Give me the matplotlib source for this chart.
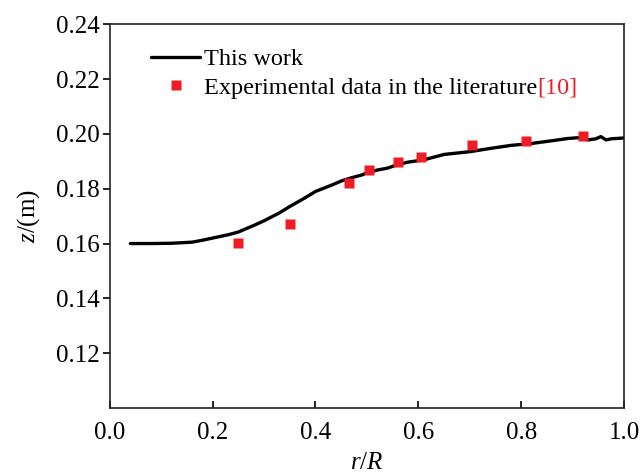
import matplotlib
matplotlib.use("Agg")
import matplotlib.pyplot as plt

plt.rcParams['font.family'] = ['Liberation Serif', 'DejaVu Serif']
plt.rcParams['mathtext.fontset'] = 'custom'
plt.rcParams['mathtext.it'] = 'Liberation Serif:italic'
plt.rcParams['mathtext.rm'] = 'Liberation Serif'

# Simulation line ("This work")
line_r = [0.04, 0.08, 0.12, 0.16, 0.18, 0.20, 0.23, 0.25, 0.28, 0.30, 0.33, 0.35, 0.38,
          0.40, 0.43, 0.45, 0.47, 0.49, 0.50, 0.52, 0.54, 0.56, 0.58, 0.61, 0.65, 0.70,
          0.74, 0.78, 0.82, 0.86, 0.89, 0.91, 0.93, 0.945, 0.955, 0.965, 0.975, 1.0]
line_z = [0.1600, 0.1600, 0.1601, 0.1605, 0.1612, 0.1620, 0.1632, 0.1642, 0.1666, 0.1683,
          0.1712, 0.1735, 0.1767, 0.1790, 0.1812, 0.1828, 0.1840, 0.1850, 0.1858, 0.1868,
          0.1875, 0.1888, 0.1897, 0.1905, 0.1925, 0.1935, 0.1947, 0.1958, 0.1965, 0.1975,
          0.1983, 0.1986, 0.1978, 0.1982, 0.1990, 0.1978, 0.1982, 0.1985]

# Experimental data
exp_r = [0.25, 0.35, 0.465, 0.505, 0.56, 0.605, 0.705, 0.81, 0.92]
exp_z = [0.1602, 0.1670, 0.1822, 0.1868, 0.1898, 0.1917, 0.1960, 0.1975, 0.1993]

fig = plt.figure(figsize=(6.42, 4.75), dpi=100)
ax = fig.add_axes([0.171, 0.141, 0.801, 0.808])

ax.plot(line_r, line_z, color='black', lw=2.4, label='This work', solid_capstyle='round')
ax.plot(exp_r, exp_z, 's', color='#ee1c25', ms=6.5, mec='none', ls='none',
        label='Experimental data in the literature')

ax.set_xlim(0.0, 1.0)
ax.set_ylim(0.10, 0.24)
ax.set_xticks([0.0, 0.2, 0.4, 0.6, 0.8, 1.0])
ax.set_xticklabels(['0.0', '0.2', '0.4', '0.6', '0.8', '1.0'])
ax.set_yticks([0.12, 0.14, 0.16, 0.18, 0.20, 0.22, 0.24])
ax.set_yticklabels(['0.12', '0.14', '0.16', '0.18', '0.20', '0.22', '0.24'])
ax.tick_params(axis='x', direction='in', length=5, width=1.2, labelsize=18, pad=10)
ax.tick_params(axis='y', direction='out', length=5, width=1.2, labelsize=18, pad=2)
for s in ax.spines.values():
    s.set_linewidth(1.2)
    s.set_color('#222222')

ax.set_xlabel('$r/R$', fontsize=18, labelpad=6)
ax.set_ylabel('$z$/(m)', fontsize=18, labelpad=10)

leg = ax.legend(loc='upper left', bbox_to_anchor=(0.081, 0.937), frameon=False,
                fontsize=17.5, handlelength=2.0, handletextpad=0.15, labelspacing=0.25,
                borderaxespad=0.0, borderpad=0.0)

fig.canvas.draw()
txt = leg.get_texts()[1]
bb = txt.get_window_extent(fig.canvas.get_renderer())
x_fig, y_fig = fig.transFigure.inverted().transform((bb.x1, bb.y0))
fig.text(x_fig, y_fig, '[10]', color='#ee1c25', fontsize=17.5, ha='left', va='bottom')

fig.savefig('out.png', dpi=100)
